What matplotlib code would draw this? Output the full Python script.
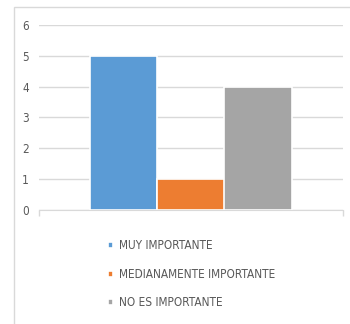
import matplotlib
matplotlib.use("Agg")
from matplotlib import pyplot as plt
from matplotlib.patches import Rectangle

categorias = ["MUY IMPORTANTE", "MEDIANAMENTE IMPORTANTE", "NO ES IMPORTANTE"]
valores = [5, 1, 4]
colores = ["#5b9bd5", "#ed7d31", "#a5a5a5"]
yticks = [0, 1, 2, 3, 4, 5, 6]

plt.rcParams['font.family'] = ['DejaVu Sans']
plt.rcParams['font.stretch'] = 'condensed'
gris_texto = "#595959"

fig = plt.figure(figsize=(3.5, 3.24), dpi=100)
ax = fig.add_axes([0.111, 0.352, 0.869, 0.571])

# chart frame
fig.patches.append(Rectangle((14 / 350, -0.1), 1.0, 1 - 7 / 324 + 0.1, transform=fig.transFigure,
                             fill=False, edgecolor="#d9d9d9", linewidth=1))

centros = [0.5 + (i - 1) * 0.221 for i in range(len(valores))]
handles = []
for c, v, col, lab in zip(centros, valores, colores, categorias):
    b = ax.bar(c, v, width=0.222, color=col, edgecolor="white", linewidth=1.2, label=lab, zorder=3)
    handles.append(b)

ax.set_xlim(0, 1)
ax.set_ylim(0, 6)
ax.set_yticks(yticks)
ax.set_yticklabels([str(t) for t in yticks], color=gris_texto, fontsize=8.5)
ax.set_xticks([0, 1])
ax.set_xticklabels([])
ax.tick_params(axis='x', length=4, color="#d9d9d9", width=1, direction='out')
ax.tick_params(axis='y', length=0, pad=7)
ax.grid(axis='y', color="#d9d9d9", linewidth=1, zorder=0)
for s in ["top", "right", "left"]:
    ax.spines[s].set_visible(False)
ax.spines["bottom"].set_color("#d9d9d9")
ax.spines["bottom"].set_zorder(4)

leg = fig.legend(handles=handles, loc="upper left", bbox_to_anchor=(0.295, 0.276),
                 frameon=False, fontsize=8.5, handlelength=0.45, handleheight=0.45,
                 handletextpad=0.5, labelspacing=1.32, borderaxespad=0)
for t in leg.get_texts():
    t.set_color(gris_texto)

fig.savefig("out.png", dpi=100)
